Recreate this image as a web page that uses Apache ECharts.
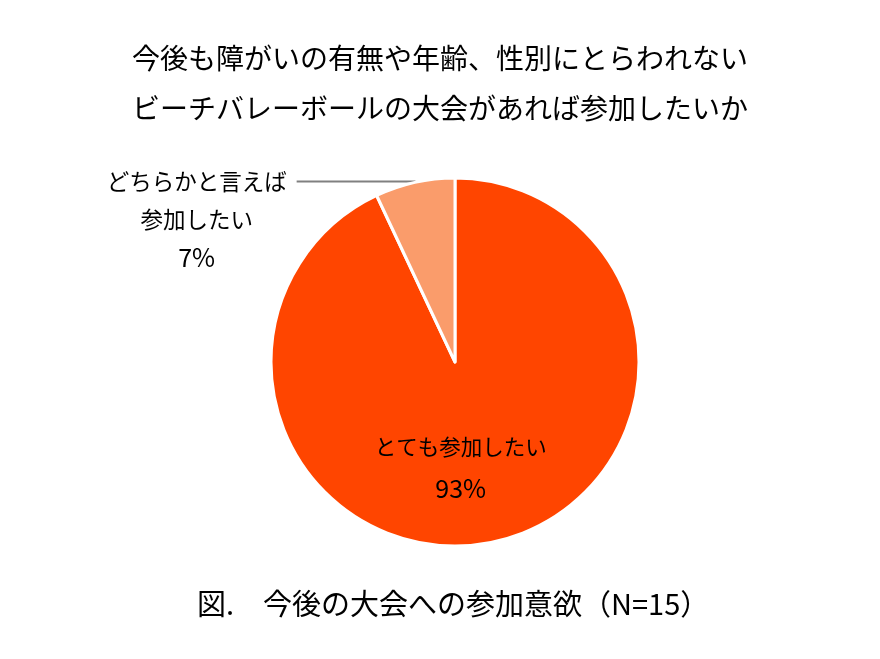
<!DOCTYPE html>
<html>
<head>
<meta charset="utf-8">
<script src="https://cdn.jsdelivr.net/npm/echarts@6/dist/echarts.min.js"></script>
<style>
html, body { margin: 0; padding: 0; background: #fff; }
#main { width: 880px; height: 659px; }
</style>
</head>
<body>
<div id="main"></div>
<script>
// data
var categories = ['とても参加したい', 'どちらかと言えば\n参加したい'];
var values = [93, 7];
var colors = ['#FF4500', '#FA9C6B'];

var titleText = '今後も障がいの有無や年齢、性別にとらわれない\nビーチバレーボールの大会があれば参加したいか';
var captionText = '図.\u3000今後の大会への参加意欲（N=15）';

var FONT = '"Noto Sans CJK JP", "Noto Sans", sans-serif';

var chart = echarts.init(document.getElementById('main'));

function richStyles(size, lh) {
    return {
        t: { fontSize: size, lineHeight: lh, color: '#000', align: 'center', fontFamily: FONT },
        p: { fontSize: 25, lineHeight: lh, color: '#000', align: 'center', fontFamily: FONT }
    };
}

var pieData = categories.map(function (name, i) {
    var item = {
        name: name,
        value: values[i],
        itemStyle: { color: colors[i] }
    };
    if (i === 0) {
        // big slice: label inside
        item.label = {
            position: 'inside',
            padding: [26, 30, 0, 0],
            rich: richStyles(21.5, 41)
        };
        item.labelLine = { show: false };
    } else {
        // small slice: label outside, line pointing to first text line
        item.label = {
            position: 'outside',
            distanceToLabelLine: 10,
            padding: [76, 0, 0, 0],
            rich: richStyles(22.5, 38)
        };
        item.labelLine = {
            show: true,
            length: 1,
            length2: 118,
            lineStyle: { color: '#808080', width: 2 }
        };
    }
    return item;
});

var option = {
    backgroundColor: '#fff',
    title: [
        {
            text: titleText,
            left: 'center',
            top: 28,
            textStyle: {
                fontFamily: FONT,
                fontSize: 28,
                fontWeight: 'normal',
                color: '#000',
                lineHeight: 50
            }
        },
        {
            text: captionText,
            left: 192,
            top: 584,
            textStyle: {
                fontFamily: FONT,
                fontSize: 29,
                fontWeight: 'normal',
                color: '#000'
            }
        }
    ],
    series: [
        {
            type: 'pie',
            center: [455, 362],
            radius: 184,
            startAngle: 90,
            clockwise: true,
            avoidLabelOverlap: false,
            animation: false,
            itemStyle: { borderColor: '#fff', borderWidth: 3 },
            label: {
                show: true,
                formatter: function (p) {
                    return '{t|' + p.name + '}\n{p|' + Math.round(p.percent) + '%}';
                }
            },
            emphasis: { disabled: true },
            data: pieData
        }
    ]
};

chart.setOption(option);
</script>
</body>
</html>
